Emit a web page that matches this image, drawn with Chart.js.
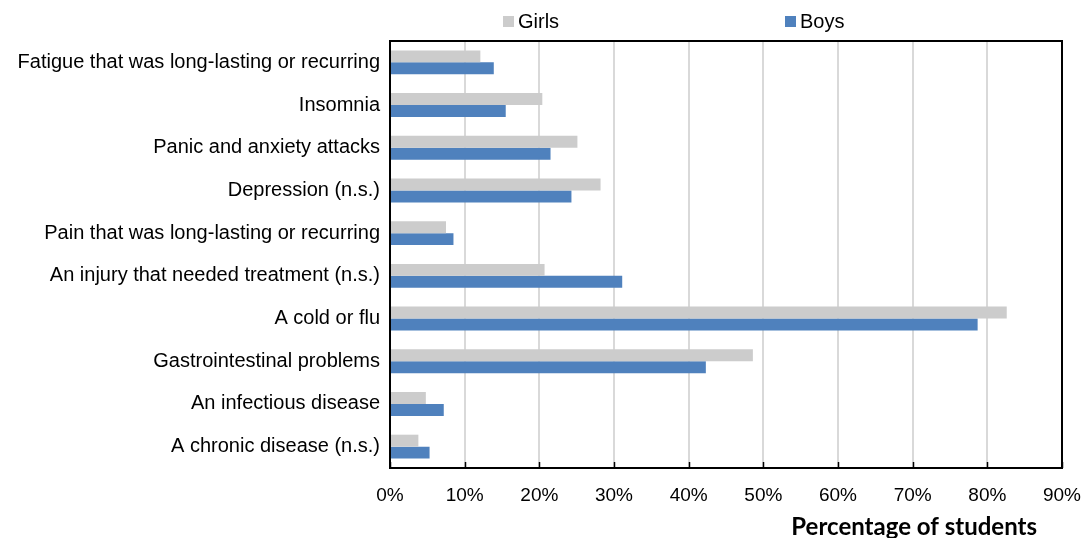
<!DOCTYPE html>
<html>
<head>
<meta charset="utf-8">
<script src="https://cdn.jsdelivr.net/npm/chart.js@4"></script>
<style>
  body { margin: 0; background: #fff; }
  #wrap { position: relative; width: 1084px; height: 538px; }
  .leg { position: absolute; top: 10px; font: 20px "Liberation Sans", Arial, sans-serif; color: #000; }
  .leg i { display: inline-block; width: 11px; height: 11px; margin-right: 4px; vertical-align: 1px; }
</style>
</head>
<body>
<div id="wrap">
  <canvas id="myChart" width="1084" height="538"></canvas>
  <div class="leg" style="left:503px"><i style="background:#cccccc"></i>Girls</div>
  <div class="leg" style="left:785px"><i style="background:#4f81bd"></i>Boys</div>
</div>
<script>
const categories = [
    'Fatigue that was long-lasting or recurring',
    'Insomnia',
    'Panic and anxiety attacks',
    'Depression (n.s.)',
    'Pain that was long-lasting or recurring',
    'An injury that needed treatment (n.s.)',
    'A cold or flu',
    'Gastrointestinal problems',
    'An infectious disease',
    'A chronic disease (n.s.)'
];
const girls = [12.1, 20.4, 25.1, 28.2, 7.5, 20.7, 82.6, 48.6, 4.8, 3.8];
const boys = [13.9, 15.5, 21.5, 24.3, 8.5, 31.1, 78.7, 42.3, 7.2, 5.3];
const xTicks = [0, 10, 20, 30, 40, 50, 60, 70, 80, 90];
const axisTitle = 'Percentage of students';

const frame = {
    id: 'frame',
    afterDraw(chart) {
        const ctx = chart.ctx;
        const a = chart.chartArea;
        ctx.save();
        // little ticks pointing up from the bottom axis
        ctx.strokeStyle = '#000';
        ctx.lineWidth = 1.5;
        const xs = chart.scales.x;
        xTicks.forEach(v => {
            const px = Math.round(xs.getPixelForValue(v)) + 0.5;
            ctx.beginPath();
            ctx.moveTo(px, a.bottom);
            ctx.lineTo(px, a.bottom - 6);
            ctx.stroke();
        });
        ctx.lineWidth = 2;
        ctx.strokeRect(a.left, a.top, a.right - a.left, a.bottom - a.top);
        ctx.fillStyle = '#000';
        ctx.font = 'bold 24px Lato, "Open Sans", sans-serif';
        ctx.textAlign = 'right';
        ctx.textBaseline = 'middle';
        ctx.fillText(axisTitle, 1037, 527);
        ctx.restore();
    }
};

const grafico = document.getElementById('myChart');
const myChart = new Chart(grafico, {
    type: 'bar',
    data: {
        labels: categories,
        datasets: [{
            label: 'Girls',
            data: girls,
            backgroundColor: '#cccccc',
            borderWidth: 0
        }, {
            label: 'Boys',
            data: boys,
            backgroundColor: '#4f81bd',
            borderWidth: 0
        }]
    },
    options: {
        indexAxis: 'y',
        responsive: false,
        animation: false,
        layout: { padding: { top: 41, right: 22, left: 0, bottom: 0 } },
        datasets: {
            bar: { categoryPercentage: 0.56, barPercentage: 1 }
        },
        plugins: {
            legend: { display: false },
            tooltip: { enabled: false }
        },
        scales: {
            x: {
                min: 0,
                max: 90,
                afterBuildTicks(scale) {
                    scale.ticks = xTicks.map(v => ({ value: v }));
                },
                afterFit(scale) {
                    scale.height = 70;
                    scale.paddingRight = 0;
                    scale.paddingLeft = 0;
                },
                grid: { color: '#d9d9d9', lineWidth: 2, drawTicks: false },
                border: { display: false },
                ticks: {
                    padding: 16,
                    color: '#000',
                    font: { family: '"Liberation Sans", Arial, sans-serif', size: 19 },
                    callback: v => v + '%'
                }
            },
            y: {
                afterFit(scale) { scale.width = 390; },
                grid: { display: false },
                border: { display: false },
                ticks: {
                    padding: 2,
                    color: '#000',
                    font: { family: '"Liberation Sans", Arial, sans-serif', size: 20 }
                }
            }
        }
    },
    plugins: [frame]
});
</script>
</body>
</html>
